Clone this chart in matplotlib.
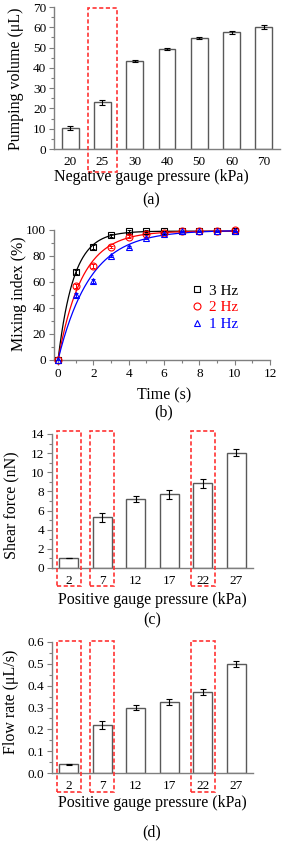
import numpy as np
import matplotlib
matplotlib.use("Agg")
import matplotlib.pyplot as plt
from matplotlib.patches import Rectangle
from matplotlib.transforms import blended_transform_factory
from matplotlib.ticker import MultipleLocator, FormatStrFormatter

plt.rcParams['font.family'] = ['Liberation Serif', 'DejaVu Serif']

# ---- data (a)
a_cats = ["20", "25", "30", "40", "50", "60", "70"]
a_vals = [10.5, 23.0, 43.2, 49.4, 54.8, 57.5, 60.2]
a_errs = [1.0, 1.2, 0.5, 0.4, 0.6, 0.6, 1.0]

# ---- data (b)
b_time = [0, 1, 2, 3, 4, 5, 6, 7, 8, 9, 10]
b_3hz = [0, 68, 87, 96, 99, 99, 99, 99, 99, 99, 99]
b_2hz = [0, 57, 72, 87, 95, 97, 98, 99, 99, 99, 100]
b_1hz = [0, 50, 61, 80, 87, 94, 97, 99, 99, 99, 99]
b_err = [0, 1.5, 1.5, 1.0, 1.0, 0.8, 0.5, 0.5, 0.5, 0.5, 0.5]

# ---- data (c)
c_cats = ["2", "7", "12", "17", "22", "27"]
c_vals = [1.0, 5.3, 7.2, 7.7, 8.85, 12.05]
c_errs = [0.0, 0.45, 0.35, 0.45, 0.5, 0.35]

# ---- data (d)
d_cats = ["2", "7", "12", "17", "22", "27"]
d_vals = [0.04, 0.22, 0.30, 0.325, 0.37, 0.50]
d_errs = [0.002, 0.02, 0.012, 0.015, 0.015, 0.015]

W, H = 283, 844
fig = plt.figure(figsize=(W / 100, H / 100), dpi=100)

def axpx(l, r, t, b):
    return fig.add_axes([l / W, 1 - b / H, (r - l) / W, (b - t) / H])

SPINE = '#7f7f7f'
BAR_EDGE = '#595959'
TICK_FS = 9.5
LAB_FS = 11.5

def style(ax):
    for s in ['top', 'right']:
        ax.spines[s].set_visible(False)
    for s in ['left', 'bottom']:
        ax.spines[s].set_color(SPINE)
        ax.spines[s].set_linewidth(1.0)
    ax.tick_params(axis='both', which='both', color=SPINE, labelsize=TICK_FS, pad=2)
    ax.tick_params(axis='both', which='major', length=3.5, width=0.8)
    ax.tick_params(axis='both', which='minor', length=2, width=0.8)

def redbox(ax, xc, hw, y0, y1):
    tr = blended_transform_factory(ax.transData, ax.transAxes)
    ax.add_patch(Rectangle((xc - hw, y0), 2 * hw, y1 - y0, transform=tr, fill=False,
                           edgecolor='#ff3333', linestyle=(0, (2.5, 1.5)), linewidth=1.2,
                           clip_on=False, zorder=5))

def barpanel(ax, cats, vals, errs, width):
    x = np.arange(len(cats))
    ax.bar(x, vals, width=width, color='white', edgecolor=BAR_EDGE, linewidth=1.0, zorder=2)
    ax.errorbar(x, vals, yerr=errs, fmt='none', ecolor='black', elinewidth=0.8,
                capsize=2, capthick=0.8, zorder=3)
    ax.set_xticks(x)
    ax.set_xticklabels(cats)
    ax.tick_params(axis='x', which='both', length=0, pad=5)
    ax.set_xlim(-0.5, len(cats) - 0.5)

def ftext(x, y, s, **kw):
    fig.text(x / W, 1 - y / H, s, fontsize=LAB_FS, ha='center', va='center', **kw)

# ---------------- (a)
ax = axpx(54, 280, 7, 149)
style(ax)
barpanel(ax, a_cats, a_vals, a_errs, 0.52)
ax.set_ylim(0, 70)
ax.yaxis.set_major_locator(MultipleLocator(10))
ax.yaxis.set_minor_locator(MultipleLocator(5))
redbox(ax, 1, 0.45, -0.165, 0.993)
ftext(16.5, 78.5, "Pumping volume (μL)", rotation=90)
ftext(151, 177, "Negative gauge pressure (kPa)")
ftext(151, 200, "(a)")

# ---------------- (b)
ax = axpx(53.6, 270, 230, 360)
style(ax)
t = np.array(b_time, dtype=float)
tt = np.linspace(0, 10, 300)
series = [(b_3hz, 'black', 's', '3 Hz'), (b_2hz, 'red', 'o', '2 Hz'), (b_1hz, 'blue', '^', '1 Hz')]
ks = np.linspace(0.05, 3, 3000)
handles = []
for vals, col, mk, lab in series:
    y = np.array(vals, dtype=float)
    best = None
    for k in ks:
        f = 1 - np.exp(-k * t)
        A = np.sum(y * f) / np.sum(f * f)
        sse = np.sum((y - A * f) ** 2)
        if best is None or sse < best[0]:
            best = (sse, k, A)
    _, k, A = best
    ax.plot(tt, A * (1 - np.exp(-k * tt)), color=col, linewidth=0.9, zorder=2, clip_on=False)
    ax.errorbar(t, y, yerr=b_err, fmt='none', ecolor=col, elinewidth=0.7, capsize=1.5,
                capthick=0.7, zorder=3, clip_on=False)
    h, = ax.plot(t, y, linestyle='none', marker=mk, markersize=5, markerfacecolor='none',
                 markeredgecolor=col, markeredgewidth=0.8, zorder=4, clip_on=False, label=lab)
    handles.append(h)
ax.set_xlim(-0.25, 12)
ax.set_ylim(0, 100)
ax.set_xticks([0, 2, 4, 6, 8, 10, 12])
ax.set_xticks(np.arange(0, 13, 1), minor=True)
ax.yaxis.set_major_locator(MultipleLocator(20))
ax.yaxis.set_minor_locator(MultipleLocator(10))
leg = ax.legend(handles=handles, loc='upper left', bbox_to_anchor=(137 / 216.4, 76 / 130),
                frameon=False, fontsize=11, handlelength=0.8, handletextpad=0.4,
                labelspacing=0.2, borderpad=0, borderaxespad=0)
for txt, (_, col, _, _) in zip(leg.get_texts(), series):
    txt.set_color(col)
ftext(19, 294, "Mixing index (%)", rotation=90)
ftext(164, 395, "Time (s)")
ftext(164, 412, "(b)")

# ---------------- (c)
ax = axpx(52, 253, 434, 568)
style(ax)
barpanel(ax, c_cats, c_vals, c_errs, 0.57)
ax.set_ylim(0, 14)
ax.yaxis.set_major_locator(MultipleLocator(2))
ax.yaxis.set_minor_locator(MultipleLocator(1))
for i in [0, 1, 4]:
    redbox(ax, i, 0.36, -0.134, 1.02)
ftext(11, 505, "Shear force (nN)", rotation=90)
ftext(152, 600, "Positive gauge pressure (kPa)")
ftext(152, 620, "(c)")

# ---------------- (d)
ax = axpx(52, 253, 642, 773)
style(ax)
barpanel(ax, d_cats, d_vals, d_errs, 0.57)
ax.set_ylim(0, 0.6)
ax.yaxis.set_major_locator(MultipleLocator(0.1))
ax.yaxis.set_minor_locator(MultipleLocator(0.05))
ax.yaxis.set_major_formatter(FormatStrFormatter('%.1f'))
for i in [0, 1, 4]:
    redbox(ax, i, 0.36, -0.145, 1.008)
ftext(11, 702, "Flow rate (μL/s)", rotation=90)
ftext(152, 803, "Positive gauge pressure (kPa)")
ftext(152, 832, "(d)")

fig.savefig("out.png", dpi=100)
